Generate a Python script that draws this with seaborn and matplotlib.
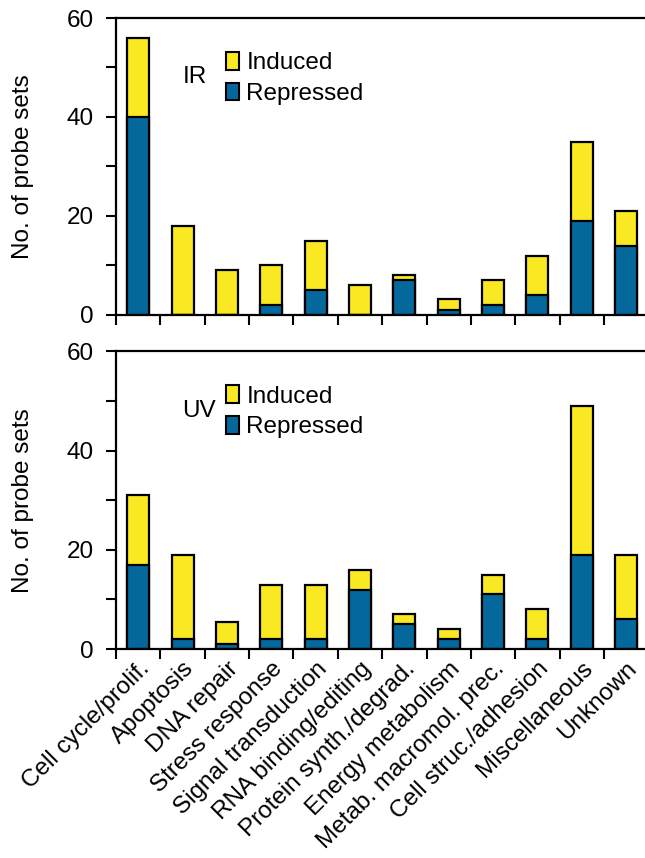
import numpy as np
import pandas as pd
import matplotlib
matplotlib.use("Agg")
import matplotlib.pyplot as plt
from matplotlib.patches import Patch
import seaborn as sns

categories = ["Cell cycle/prolif.", "Apoptosis", "DNA repair", "Stress response",
              "Signal transduction", "RNA binding/editing", "Protein synth./degrad.",
              "Energy metabolism", "Metab. macromol. prec.", "Cell struc./adhesion",
              "Miscellaneous", "Unknown"]

# total height of each stacked bar (induced + repressed) and repressed part
ir_total = [56, 18, 9, 10, 15, 6, 8, 3.2, 7, 12, 35, 21]
ir_repressed = [40, 0, 0, 2, 5, 0, 7, 1, 2, 4, 19, 14]
uv_total = [31, 19, 5.5, 13, 13, 16, 7, 4, 15, 8, 49, 19]
uv_repressed = [17, 2, 1, 2, 2, 12, 5, 2, 11, 2, 19, 6]

YELLOW = "#F9E822"
BLUE = "#04689C"
FS = 17.5

sns.set_style("ticks")
plt.rcParams["font.family"] = ["Liberation Sans", "DejaVu Sans"]
plt.rcParams["text.color"] = "black"
plt.rcParams["axes.labelcolor"] = "black"
plt.rcParams["xtick.color"] = "black"
plt.rcParams["ytick.color"] = "black"
plt.rcParams["axes.edgecolor"] = "black"

fig = plt.figure(figsize=(6.45, 8.58), dpi=100)
ax1 = fig.add_axes([0.180, 0.633, 0.825, 0.346])
ax2 = fig.add_axes([0.180, 0.2435, 0.825, 0.347])


def draw(ax, total, rep, tag, show_labels):
    df = pd.DataFrame({"cat": categories, "total": total, "rep": rep})
    sns.barplot(data=df, x="cat", y="total", color=YELLOW, edgecolor="black",
                linewidth=1.6, width=0.5, saturation=1, ax=ax)
    sns.barplot(data=df, x="cat", y="rep", color=BLUE, edgecolor="black",
                linewidth=1.6, width=0.5, saturation=1, ax=ax)
    ax.set_xlim(-0.5, 11.5)
    ax.set_ylim(0, 60)
    ax.set_yticks([0, 20, 40, 60])
    ax.set_yticks([10, 30, 50], minor=True)
    ax.set_xticks(np.arange(-0.5, 12, 1), minor=True)
    ax.tick_params(axis="x", which="major", length=0, pad=6)
    ax.tick_params(axis="x", which="minor", length=7, width=1.5, direction="out")
    ax.tick_params(axis="y", which="both", length=7, width=1.5, direction="out",
                   labelsize=FS, pad=9)
    for s in ["left", "bottom", "top"]:
        ax.spines[s].set_linewidth(1.6)
    ax.spines["right"].set_visible(False)
    ax.set_xlabel("")
    ax.set_ylabel("No. of probe sets", fontsize=FS)
    ax.yaxis.set_label_coords(-0.155, 0.5)
    if show_labels:
        ax.set_xticks(range(len(categories)))
        ax.set_xticklabels(categories, rotation=45, ha="right",
                           rotation_mode="anchor", fontsize=FS)
    else:
        ax.set_xticklabels([])
    ax.text(0.125, 0.80, tag, transform=ax.transAxes, fontsize=FS, va="center")
    handles = [Patch(facecolor=YELLOW, edgecolor="black", linewidth=1.5, label="Induced"),
               Patch(facecolor=BLUE, edgecolor="black", linewidth=1.5, label="Repressed")]
    ax.legend(handles=handles, loc="upper left", bbox_to_anchor=(0.165, 0.96),
              frameon=False, handlelength=0.55, handleheight=0.75,
              handletextpad=0.3, labelspacing=0.35, fontsize=FS)


draw(ax1, ir_total, ir_repressed, "IR", False)
draw(ax2, uv_total, uv_repressed, "UV", True)

fig.savefig("out.png", dpi=100)
